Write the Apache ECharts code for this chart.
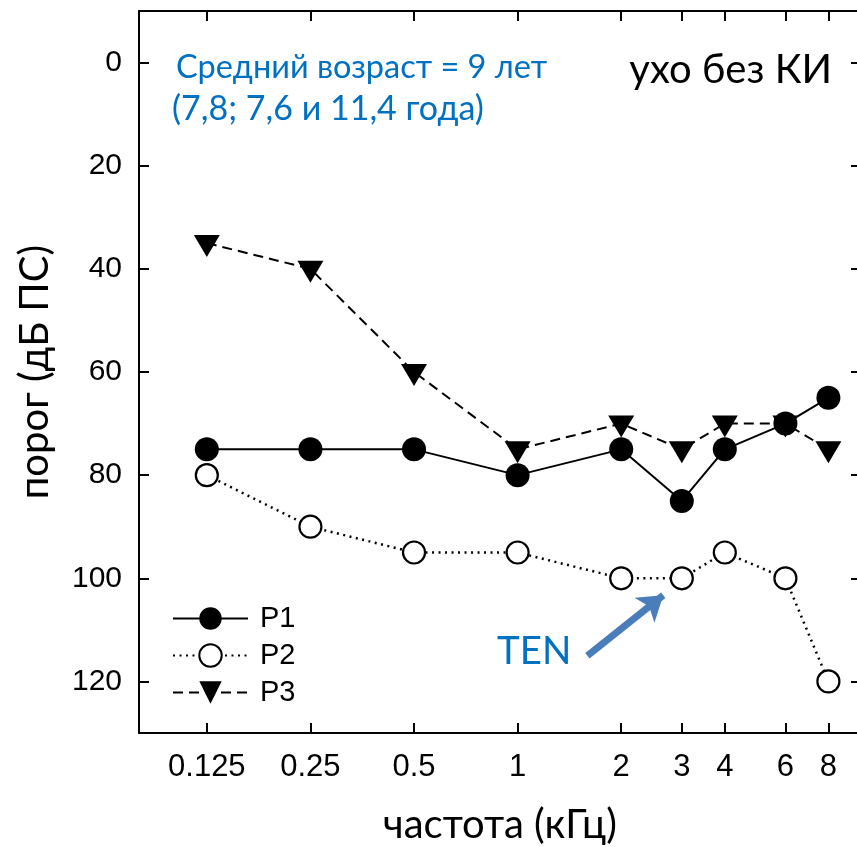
<!DOCTYPE html>
<html>
<head>
<meta charset="utf-8">
<script src="https://cdn.jsdelivr.net/npm/echarts@6/dist/echarts.min.js"></script>
<style>html,body{margin:0;padding:0;background:#fff;}#c{width:857px;height:847px;}</style>
</head>
<body>
<div id="c"></div>
<script>
// ---- data ----
const freqs = [0.125, 0.25, 0.5, 1, 2, 3, 4, 6, 8];
const tickFreqs = [0.125, 0.25, 0.5, 1, 2, 3, 4, 6, 8];
const tickLabels = ['0.125', '0.25', '0.5', '1', '2', '3', '4', '6', '8'];
const yTicks = [0, 20, 40, 60, 80, 100, 120];
const p1 = [75, 75, 75, 80, 75, 85, 75, 70, 65];
const p2 = [80, 90, 95, 95, 100, 100, 95, 100, 120];
const p3 = [35, 40, 60, 75, 70, 75, 70, 70, 75];
const xMinFreq = 0.0794, xMaxFreq = 9.95;
const yMin = -10, yMax = 130;
// arrow annotation (data space: freq, threshold)
const arrowTail = [1.595, 115];
const arrowHead = [2.65, 103.3];

const lg = v => Math.log2(v);
const pts = arr => arr.map((v, i) => [lg(freqs[i]), v]);
const tickPos = tickFreqs.map(lg);
function labelFor(v) {
  let best = 0, d = Infinity;
  tickPos.forEach((t, i) => { const dd = Math.abs(t - v); if (dd < d) { d = dd; best = i; } });
  return tickLabels[best];
}

const chart = echarts.init(document.getElementById('c'), null, {renderer: 'canvas'});
const axisFont = '"Liberation Sans", Arial, sans-serif';
const textFont = 'Lato, "Open Sans", sans-serif';

const option = {
  animation: false,
  backgroundColor: '#fff',
  grid: {left: 139, top: 11, width: 722, height: 722, containLabel: false, outerBoundsMode: 'none'},
  legend: {
    orient: 'vertical', left: 167, top: 599,
    itemWidth: 75, itemHeight: 28, itemGap: 8,
    textStyle: {fontFamily: axisFont, fontSize: 29, color: '#000'},
    formatter: '{a|{name}}',
    textStyle: {fontFamily: axisFont, fontSize: 29, color: '#000',
      rich: {a: {fontFamily: axisFont, fontSize: 29, color: '#000', padding: [0, 0, 0, 7]}}},
    data: ['P1', 'P2', 'P3']
  },
  xAxis: [{
    type: 'value', position: 'bottom', min: lg(xMinFreq), max: lg(xMaxFreq),
    name: 'частота (кГц)', nameLocation: 'middle', nameGap: 72,
    nameTextStyle: {fontFamily: textFont, fontSize: 40, color: '#000'},
    axisLine: {show: true, onZero: false, lineStyle: {color: '#000', width: 2}},
    axisTick: {show: true, inside: true, length: 10, lineStyle: {color: '#000', width: 2}, customValues: tickPos},
    axisLabel: {show: true, margin: 19, fontFamily: axisFont, fontSize: 31, color: '#000', customValues: tickPos, formatter: v => labelFor(v)},
    splitLine: {show: false}
  }, {
    type: 'value', position: 'top', min: lg(xMinFreq), max: lg(xMaxFreq),
    axisLine: {show: true, onZero: false, lineStyle: {color: '#000', width: 2}},
    axisTick: {show: true, inside: true, length: 10, lineStyle: {color: '#000', width: 2}, customValues: tickPos},
    axisLabel: {show: false},
    splitLine: {show: false}
  }],
  yAxis: [{
    type: 'value', position: 'left', inverse: true, min: yMin, max: yMax,
    name: 'порог (дБ ПС)', nameLocation: 'middle', nameGap: 84, nameRotate: 90,
    nameTextStyle: {fontFamily: textFont, fontSize: 40, color: '#000'},
    axisLine: {show: true, onZero: false, lineStyle: {color: '#000', width: 2}},
    axisTick: {show: true, inside: true, length: 10, lineStyle: {color: '#000', width: 2}, customValues: yTicks},
    axisLabel: {show: true, margin: 17, fontFamily: axisFont, fontSize: 30, color: '#000', customValues: yTicks},
    splitLine: {show: false}
  }, {
    type: 'value', position: 'right', inverse: true, min: yMin, max: yMax,
    axisLine: {show: true, onZero: false, lineStyle: {color: '#000', width: 2}},
    axisTick: {show: true, inside: true, length: 10, lineStyle: {color: '#000', width: 2}, customValues: yTicks},
    axisLabel: {show: false},
    splitLine: {show: false}
  }],
  series: [{
    name: 'P1', type: 'line', data: pts(p1),
    symbol: 'circle', symbolSize: 24,
    lineStyle: {color: '#000', width: 2, type: 'solid'},
    itemStyle: {color: '#000', borderColor: '#000', borderWidth: 0},
    z: 3
  }, {
    name: 'P2', type: 'line', data: pts(p2),
    symbol: 'circle', symbolSize: 22,
    lineStyle: {color: '#000', width: 2.5, type: [2, 4.5]},
    itemStyle: {color: '#fff', borderColor: '#000', borderWidth: 2.2},
    z: 2,
    markLine: {
      silent: true, symbol: ['none', 'arrow'], symbolSize: 24,
      label: {show: false},
      lineStyle: {color: '#4A7EBB', width: 7, type: 'solid'},
      itemStyle: {color: '#4A7EBB'},
      data: [[{coord: [lg(arrowTail[0]), arrowTail[1]]}, {coord: [lg(arrowHead[0]), arrowHead[1]]}]]
    }
  }, {
    name: 'P3', type: 'line', data: pts(p3),
    symbol: 'triangle', symbolRotate: 180, symbolSize: [26, 22], symbolOffset: [0, 3],
    lineStyle: {color: '#000', width: 2, type: [10, 6]},
    itemStyle: {color: '#000'},
    z: 4
  }],
  graphic: [
    {type: 'text', left: 176, top: 51, style: {text: 'Средний возраст = 9 лет', font: '32.5px ' + textFont, fill: '#0070C0'}},
    {type: 'text', left: 172, top: 92, style: {text: '(7,8; 7,6 и 11,4 года)', font: '34px ' + textFont, fill: '#0070C0'}},
    {type: 'text', right: 25, top: 50, style: {text: 'ухо без КИ', font: '40px ' + textFont, fill: '#000'}},
    {type: 'text', left: 497, top: 632, style: {text: 'TEN', font: '38.5px ' + textFont, fill: '#0070C0'}}
  ]
};
chart.setOption(option);
</script>
</body>
</html>
